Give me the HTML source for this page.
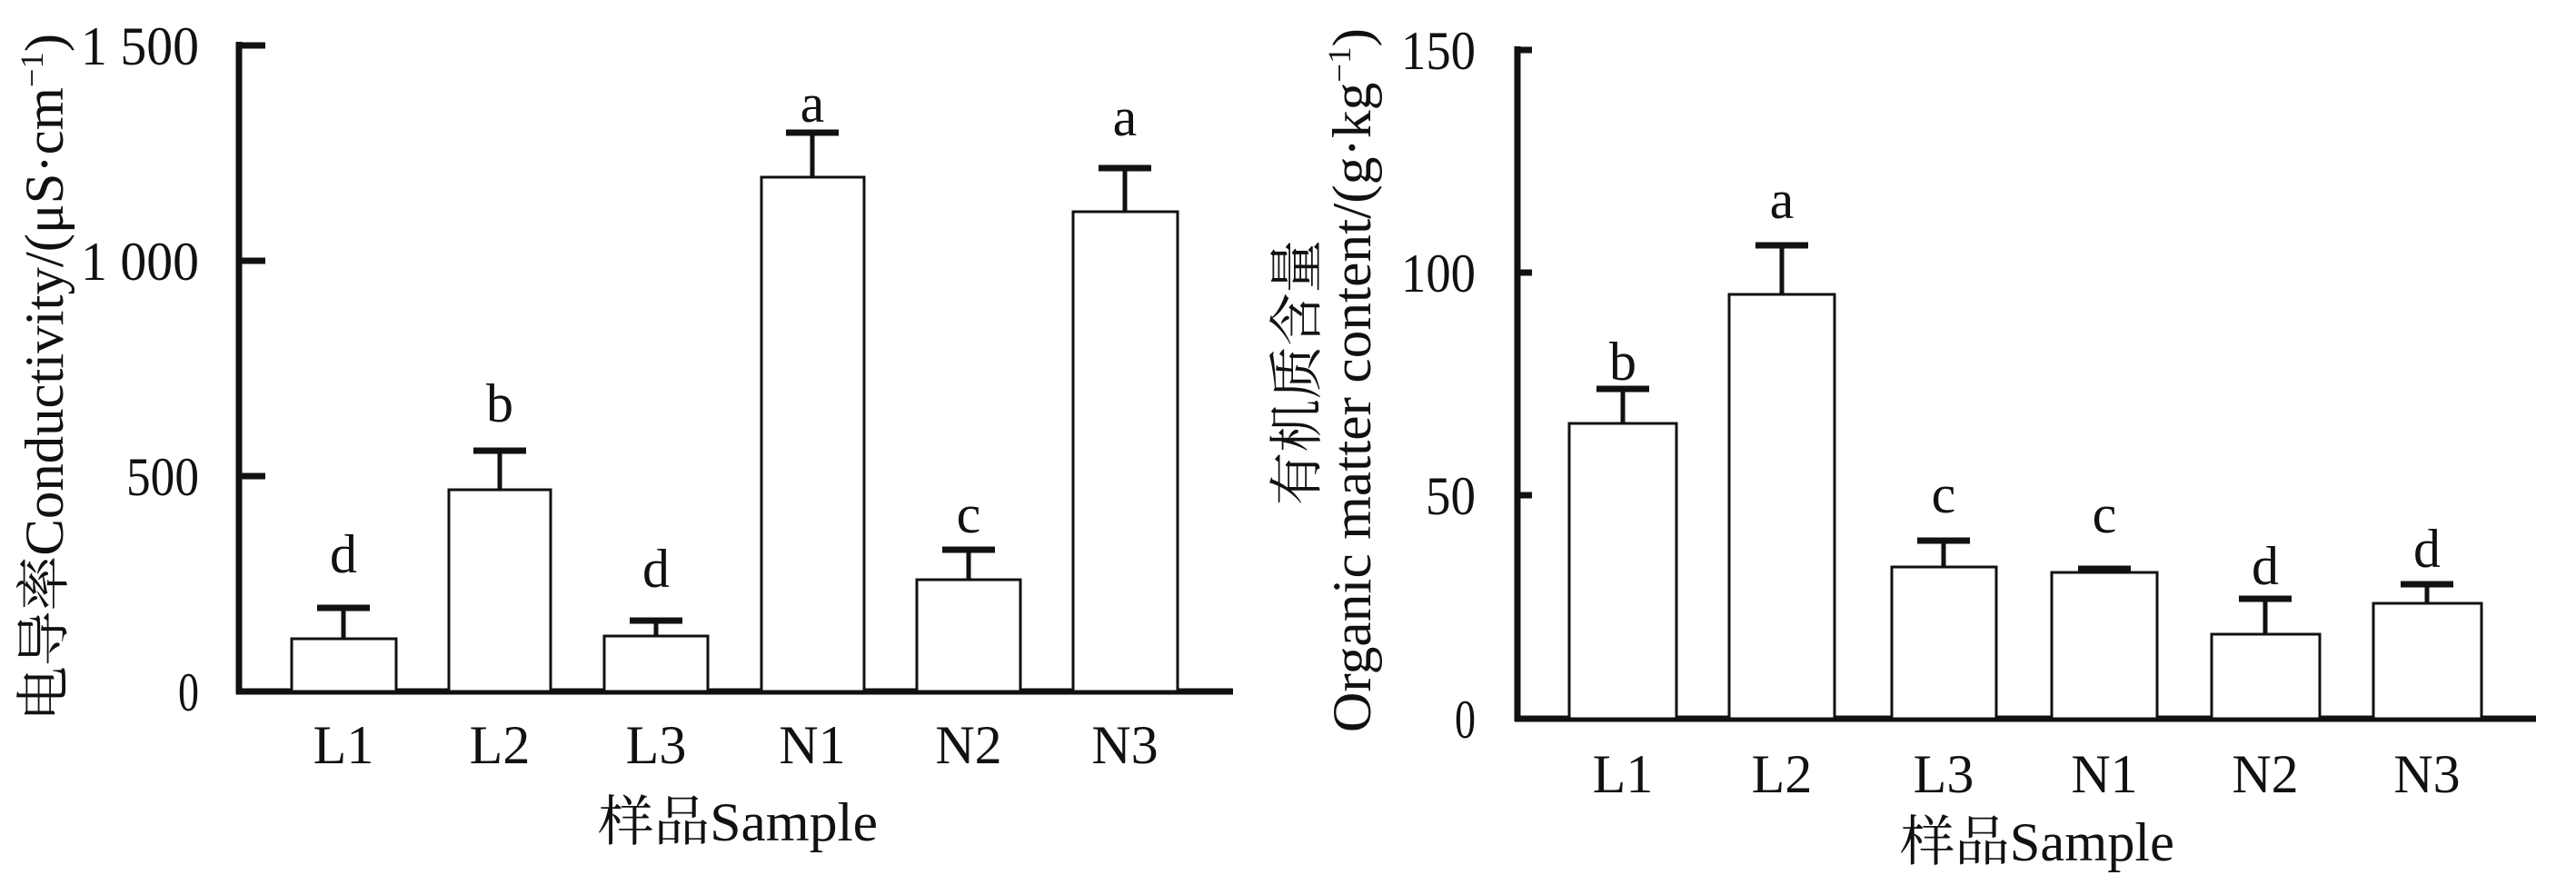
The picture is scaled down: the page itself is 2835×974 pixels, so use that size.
<!DOCTYPE html>
<html><head><meta charset="utf-8"><style>
html,body{margin:0;padding:0;background:#fff;}
svg{display:block;}
text{font-family:"Liberation Serif","Noto Serif CJK SC","Noto Sans CJK SC",serif;fill:#111;font-size:60px;}
</style></head><body>
<svg width="2835" height="974" viewBox="0 0 2835 974" xmlns="http://www.w3.org/2000/svg">
<g stroke="#111" fill="none">
<line x1="263" y1="46" x2="263" y2="764" stroke-width="7"/>
<line x1="260" y1="761" x2="1357" y2="761" stroke-width="7"/>
<g stroke-width="7">
<line x1="263" y1="50" x2="292" y2="50"/><line x1="263" y1="287" x2="292" y2="287"/><line x1="263" y1="524" x2="292" y2="524"/>
</g>
<g stroke-width="3" fill="#fff">
<rect x="321" y="703" width="115" height="58"/><rect x="494" y="539" width="112" height="222"/>
<rect x="665" y="700" width="114" height="61"/><rect x="838" y="195" width="113" height="566"/>
<rect x="1009" y="638" width="114" height="123"/><rect x="1181" y="233" width="115" height="528"/>
</g>
<g stroke-width="5">
<line x1="378" y1="703" x2="378" y2="669"/><line x1="550" y1="539" x2="550" y2="496"/>
<line x1="722" y1="700" x2="722" y2="683"/><line x1="894" y1="195" x2="894" y2="146"/>
<line x1="1066" y1="638" x2="1066" y2="605"/><line x1="1238" y1="233" x2="1238" y2="185"/>
</g>
<g stroke-width="7">
<line x1="349" y1="669" x2="407" y2="669"/><line x1="521" y1="496" x2="579" y2="496"/>
<line x1="693" y1="683" x2="751" y2="683"/><line x1="865" y1="146" x2="923" y2="146"/>
<line x1="1037" y1="605" x2="1095" y2="605"/><line x1="1209" y1="185" x2="1267" y2="185"/>
</g>
<line x1="1670" y1="51" x2="1670" y2="794" stroke-width="7"/>
<line x1="1667" y1="791" x2="2791" y2="791" stroke-width="7"/>
<g stroke-width="7">
<line x1="1670" y1="55" x2="1686" y2="55"/><line x1="1670" y1="300" x2="1686" y2="300"/><line x1="1670" y1="545" x2="1686" y2="545"/>
</g>
<g stroke-width="3" fill="#fff">
<rect x="1727" y="466" width="118" height="325"/><rect x="1903" y="324" width="116" height="467"/>
<rect x="2082" y="624" width="115" height="167"/><rect x="2258" y="630" width="116" height="161"/>
<rect x="2434" y="698" width="119" height="93"/><rect x="2612" y="664" width="119" height="127"/>
</g>
<g stroke-width="5">
<line x1="1786" y1="466" x2="1786" y2="428"/><line x1="1961" y1="324" x2="1961" y2="270"/>
<line x1="2139" y1="624" x2="2139" y2="595"/><line x1="2316" y1="630" x2="2316" y2="626"/>
<line x1="2493" y1="698" x2="2493" y2="659"/><line x1="2671" y1="664" x2="2671" y2="643"/>
</g>
<g stroke-width="7">
<line x1="1757" y1="428" x2="1815" y2="428"/><line x1="1932" y1="270" x2="1990" y2="270"/>
<line x1="2110" y1="595" x2="2168" y2="595"/><line x1="2287" y1="626" x2="2345" y2="626"/>
<line x1="2464" y1="659" x2="2522" y2="659"/><line x1="2642" y1="643" x2="2700" y2="643"/>
</g>
</g>
<g>
<text x="89" y="71" textLength="130" lengthAdjust="spacingAndGlyphs">1 500</text>
<text x="89" y="308" textLength="130" lengthAdjust="spacingAndGlyphs">1 000</text>
<text x="139" y="545" textLength="80" lengthAdjust="spacingAndGlyphs">500</text>
<text x="196" y="782" textLength="23" lengthAdjust="spacingAndGlyphs">0</text>
</g>
<g text-anchor="middle">
<text x="378" y="840">L1</text><text x="550" y="840">L2</text><text x="722" y="840">L3</text>
<text x="894" y="840">N1</text><text x="1066" y="840">N2</text><text x="1238" y="840">N3</text>
<text x="378" y="630">d</text><text x="550" y="464">b</text><text x="722" y="646">d</text>
<text x="894" y="134">a</text><text x="1066" y="586">c</text><text x="1238" y="149">a</text>
</g>
<text x="658" y="925" textLength="308" lengthAdjust="spacingAndGlyphs">样品Sample</text>
<text transform="translate(69,794) rotate(-90)" textLength="757" lengthAdjust="spacingAndGlyphs">电导率Conductivity/(μS·cm<tspan font-size="36" dy="-22">−1</tspan><tspan dy="22">)</tspan></text>
<g>
<text x="1542" y="76" textLength="82" lengthAdjust="spacingAndGlyphs">150</text>
<text x="1542" y="321" textLength="82" lengthAdjust="spacingAndGlyphs">100</text>
<text x="1569" y="566" textLength="55" lengthAdjust="spacingAndGlyphs">50</text>
<text x="1601" y="812" textLength="23" lengthAdjust="spacingAndGlyphs">0</text>
</g>
<g text-anchor="middle">
<text x="1786" y="872">L1</text><text x="1961" y="872">L2</text><text x="2139" y="872">L3</text>
<text x="2316" y="872">N1</text><text x="2493" y="872">N2</text><text x="2671" y="872">N3</text>
<text x="1786" y="418">b</text><text x="1961" y="240">a</text><text x="2139" y="564">c</text>
<text x="2316" y="586">c</text><text x="2493" y="643">d</text><text x="2671" y="624">d</text>
</g>
<text x="2091" y="947" textLength="302" lengthAdjust="spacingAndGlyphs">样品Sample</text>
<text transform="translate(1448,556) rotate(-90)" textLength="292" lengthAdjust="spacingAndGlyphs">有机质含量</text>
<text transform="translate(1508,806) rotate(-90)" textLength="775" lengthAdjust="spacingAndGlyphs">Organic matter content/(g·kg<tspan font-size="36" dy="-22">−1</tspan><tspan dy="22">)</tspan></text>
</svg>
</body></html>
